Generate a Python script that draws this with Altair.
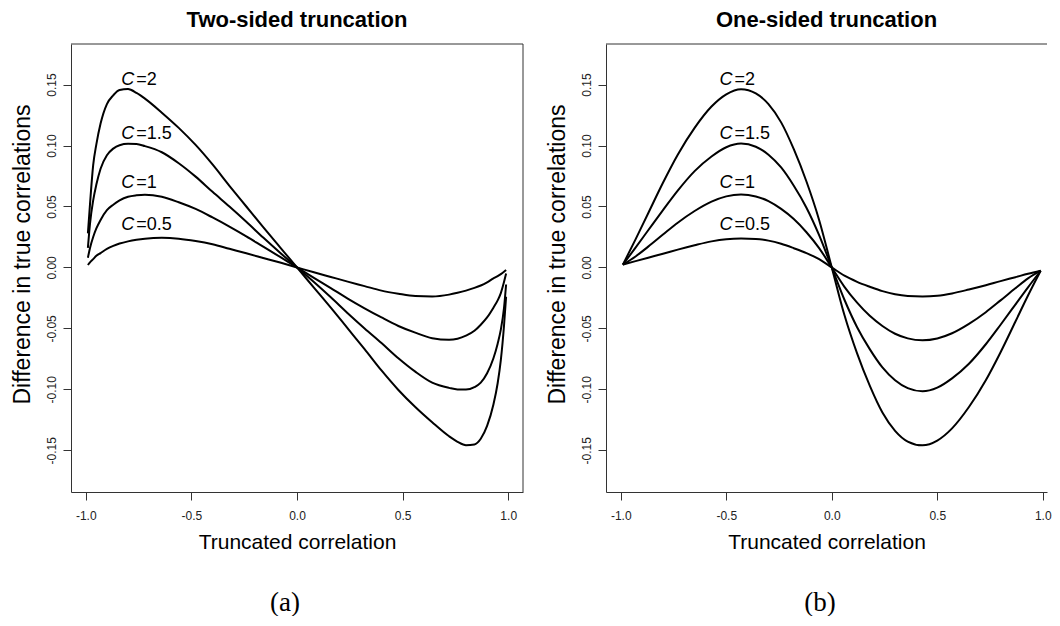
import altair as alt
import pandas as pd

# ---------------- data ----------------
C_LEVELS = ["2", "1.5", "1", "0.5"]

# (a) two-sided truncation
x_two = [-0.99, -0.98, -0.965, -0.95, -0.93, -0.9, -0.87, -0.84, -0.8, -0.76, -0.72, -0.64,
         -0.56, -0.48, -0.4, -0.32, -0.24, -0.16, -0.08, 0.0,
         0.08, 0.16, 0.24, 0.32, 0.4, 0.48, 0.56, 0.64, 0.72, 0.76, 0.8, 0.84,
         0.87, 0.9, 0.93, 0.95, 0.965, 0.98, 0.99]
two_c2 = [0.028, 0.052, 0.084, 0.101, 0.118, 0.134, 0.1412, 0.1455, 0.1463, 0.1432, 0.1385, 0.127,
          0.1145, 0.1005, 0.0845, 0.067, 0.050, 0.033, 0.0165, 0.0,
          -0.0165, -0.033, -0.050, -0.067, -0.0845, -0.1005, -0.1145, -0.127, -0.1385, -0.143,
          -0.1458, -0.1452, -0.1405, -0.130, -0.1125, -0.095, -0.076, -0.048, -0.024]
two_c15 = [0.016, 0.036, 0.055, 0.068, 0.081, 0.092, 0.0975, 0.1003, 0.1014, 0.1012, 0.0995, 0.0945,
           0.0855, 0.0745, 0.062, 0.050, 0.0375, 0.0245, 0.012, 0.0,
           -0.012, -0.0245, -0.0375, -0.050, -0.062, -0.0745, -0.0855, -0.0945, -0.0988, -0.1001,
           -0.1002, -0.0982, -0.0945, -0.0868, -0.0745, -0.0625, -0.051, -0.0334, -0.014]
two_c1 = [0.008, 0.016, 0.025, 0.032, 0.039, 0.047, 0.0515, 0.055, 0.058, 0.0592, 0.0597, 0.058,
          0.0535, 0.048, 0.041, 0.0335, 0.0255, 0.017, 0.0086, 0.0,
          -0.0086, -0.017, -0.0255, -0.0335, -0.041, -0.048, -0.0535, -0.058, -0.0594, -0.0585,
          -0.056, -0.052, -0.047, -0.041, -0.033, -0.027, -0.021, -0.012, -0.005]
two_c05 = [0.002, 0.0042, 0.0068, 0.0095, 0.0118, 0.0152, 0.0177, 0.0196, 0.0214, 0.0227, 0.0236,
           0.0243, 0.0236, 0.0217, 0.019, 0.0153, 0.0116, 0.0078, 0.004, 0.0,
           -0.004, -0.0078, -0.0116, -0.0153, -0.019, -0.0215, -0.0234, -0.0238, -0.0223, -0.0208,
           -0.019, -0.0168, -0.0148, -0.0122, -0.009, -0.0072, -0.0055, -0.0035, -0.002]

# (b) one-sided truncation
x_one = [-0.99, -0.93, -0.87, -0.8, -0.73, -0.65, -0.57, -0.5, -0.43, -0.36, -0.3, -0.24, -0.18,
         -0.12, -0.06, 0.0,
         0.06, 0.12, 0.18, 0.24, 0.3, 0.36, 0.43, 0.5, 0.57, 0.65, 0.73, 0.8, 0.87, 0.93, 0.99]
one_c2 = [0.0023, 0.023, 0.0445, 0.0695, 0.0925, 0.1145, 0.132, 0.142, 0.1462, 0.1428, 0.134, 0.119,
          0.097, 0.0705, 0.039, 0.0,
          -0.039, -0.0705, -0.097, -0.119, -0.134, -0.1428, -0.1459, -0.142, -0.132, -0.1145,
          -0.0925, -0.0695, -0.0445, -0.023, -0.0027]
one_c15 = [0.0023, 0.0163, 0.0305, 0.047, 0.063, 0.079, 0.091, 0.0986, 0.1016, 0.099, 0.0925, 0.082,
           0.067, 0.049, 0.0265, 0.0,
           -0.0265, -0.049, -0.067, -0.082, -0.0925, -0.099, -0.1016, -0.0986, -0.091, -0.079,
           -0.063, -0.047, -0.0305, -0.0163, -0.0027]
one_c1 = [0.0023, 0.009, 0.0171, 0.027, 0.0367, 0.0463, 0.054, 0.0583, 0.0598, 0.0582, 0.0544, 0.048,
          0.0397, 0.0289, 0.0159, 0.0,
          -0.0159, -0.0289, -0.0397, -0.048, -0.0544, -0.0582, -0.0598, -0.0583, -0.054, -0.0463,
          -0.0367, -0.027, -0.0171, -0.009, -0.0027]
one_c05 = [0.0023, 0.0052, 0.008, 0.0112, 0.0146, 0.0182, 0.0214, 0.0232, 0.0238, 0.0234, 0.022,
           0.0194, 0.0158, 0.0118, 0.0068, 0.0,
           -0.0068, -0.0118, -0.0158, -0.0194, -0.022, -0.0234, -0.0238, -0.0232, -0.0213, -0.0181,
           -0.0146, -0.0112, -0.008, -0.0052, -0.0027]

x_ticks = [-1.0, -0.5, 0.0, 0.5, 1.0]
y_ticks = [-0.15, -0.10, -0.05, 0.0, 0.05, 0.10, 0.15]

label_y = [0.1539, 0.1098, 0.0694, 0.0346]
two_label_x = [-0.832, -0.832, -0.832, -0.832]
one_label_x = [-0.532, -0.532, -0.532, -0.532]
label_text = ["=2", "=1.5", "=1", "=0.5"]

panel_titles = ["Two-sided truncation", "One-sided truncation"]
captions = ["(a)", "(b)"]
x_title = "Truncated correlation"
y_title = "Difference in true correlations"

# ---------------- helpers ----------------
FONT = "Liberation Sans"
H = 448
BOX = "#333333"


def long_df(xs, series):
    rows = []
    for c, ys in zip(C_LEVELS, series):
        for xv, yv in zip(xs, ys):
            rows.append({"x": xv, "y": yv, "C": c})
    return pd.DataFrame(rows)


def fmt_expr(spec):
    return ("datum.value < 0 ? '-' + format(-datum.value, '%s') : format(datum.value, '%s')"
            % (spec, spec))


def panel(df, lab_x, title, caption, xdom, width, right_edge):
    xs = alt.Scale(domain=xdom, nice=False, zero=False)
    ys = alt.Scale(domain=[-0.1842, 0.1833], nice=False, zero=False)
    xaxis = alt.Axis(title=x_title, values=x_ticks, labelExpr=fmt_expr(".1f"),
                     labelPadding=10, titlePadding=10, titleFontSize=21,
                     labelFlush=False, labelOverlap=False)
    yaxis = alt.Axis(title=y_title, values=y_ticks, labelExpr=fmt_expr(".2f"),
                     labelAngle=270, labelAlign="center", labelBaseline="bottom",
                     labelPadding=5, titlePadding=11, titleFontSize=23, titleY=210,
                     labelFlush=False, labelOverlap=False)
    X = alt.X("x:Q", scale=xs, axis=xaxis)
    Y = alt.Y("y:Q", scale=ys, axis=yaxis)

    lines = alt.Chart(df).mark_line(color="black", strokeWidth=2, interpolate="monotone").encode(
        x=X, y=Y, detail=alt.Detail("C:N"),
    )

    lab = pd.DataFrame({"x": lab_x, "y": label_y, "t": label_text})
    lab_c = alt.Chart(lab).mark_text(text="C", font=FONT, fontSize=18, fontStyle="italic",
                                     align="left", baseline="middle", color="black").encode(x=X, y=Y)
    lab_t = alt.Chart(lab).mark_text(font=FONT, fontSize=18, dx=15,
                                     align="left", baseline="middle", color="black").encode(
        x=X, y=Y, text="t:N")

    one = pd.DataFrame({"k": [0]})
    top = alt.Chart(one).mark_rule(color=BOX, strokeWidth=1).encode(
        x=alt.value(0), x2=alt.value(width), y=alt.value(0))
    layers = [lines, lab_c, lab_t, top]
    if right_edge:
        layers.append(alt.Chart(one).mark_rule(color=BOX, strokeWidth=1).encode(
            x=alt.value(width), y=alt.value(0), y2=alt.value(H)))

    cap = alt.Chart(pd.DataFrame({"cap": [caption]})).mark_text(
        font="Liberation Serif", fontSize=27, align="center", baseline="alphabetic",
        color="black").encode(x=alt.value(214), y=alt.value(567), text="cap:N")
    layers.append(cap)

    return alt.layer(*layers).properties(
        width=width, height=H,
        title=alt.TitleParams(title, frame="group", anchor="middle", offset=12),
    )


left = panel(long_df(x_two, [two_c2, two_c15, two_c1, two_c05]), two_label_x,
             panel_titles[0], captions[0], [-1.07, 1.07], 452, True)
right = panel(long_df(x_one, [one_c2, one_c15, one_c1, one_c05]), one_label_x,
              panel_titles[1], captions[1], [-1.07, 1.02], 441, False)

chart = alt.hconcat(left, right, spacing=22).properties(
    padding={"left": 3, "top": 0, "right": 0, "bottom": 0}
).configure_view(stroke=None).configure_axis(
    domainColor=BOX, tickColor=BOX, labelColor="#222222", labelFont=FONT, labelFontSize=12,
    titleFont=FONT, titleFontWeight="normal", titleColor="black", tickSize=8, grid=False,
).configure_title(font=FONT, fontSize=22, fontWeight="bold", color="black")

chart.save("out.html", embed_options={"renderer": "svg", "actions": False})
